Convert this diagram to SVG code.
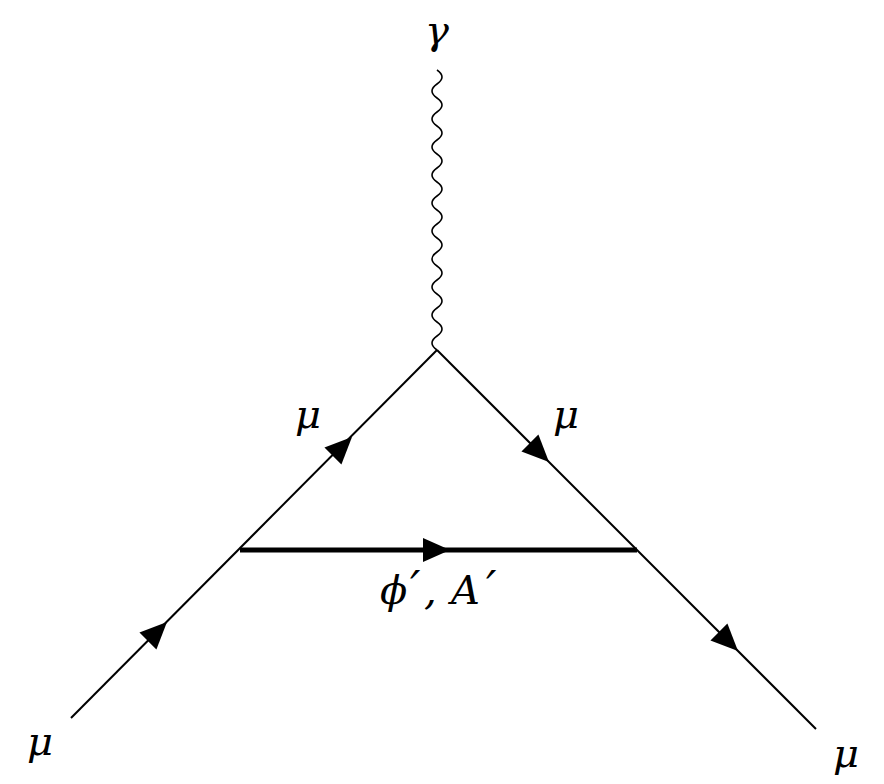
<svg xmlns="http://www.w3.org/2000/svg" xmlns:xlink="http://www.w3.org/1999/xlink" width="884" height="784" viewBox="0 0 884 784">
<style>
.fermion{stroke:#000;stroke-width:2;fill:none;stroke-linecap:butt}
.scalar{stroke:#000;stroke-width:5;fill:none}
.photon{stroke:#000;stroke-width:1.6;fill:none}
.lbl{font-family:'DejaVu Serif','Liberation Serif',serif;font-style:italic;font-size:40px;fill:#000}
.prime{font-size:46px}
</style>
<defs>
<path id="ah" d="M0,0 L-27,-12 L-27,12 Z" fill="#000"/>
</defs>
<rect width="884" height="784" fill="#fff"/>
<g id="connectors">
<line class="fermion" x1="71" y1="718" x2="437" y2="350"/>
<line class="fermion" x1="437" y1="350" x2="816" y2="729"/>
<line class="scalar" x1="240" y1="550" x2="637" y2="550"/>
<path class="photon" d="M437,350 q-10,-7 0,-14 t0,-14 t0,-14 t0,-14 t0,-14 t0,-14 t0,-14 t0,-14 t0,-14 t0,-14 t0,-14 t0,-14 t0,-14 t0,-14 t0,-14 t0,-14 t0,-14 t0,-14 t0,-14 t0,-14"/>
<use xlink:href="#ah" href="#ah" transform="translate(167,622) rotate(-45)"/>
<use xlink:href="#ah" href="#ah" transform="translate(352,437) rotate(-45)"/>
<use xlink:href="#ah" href="#ah" transform="translate(450,550)"/>
<use xlink:href="#ah" href="#ah" transform="translate(549,462) rotate(45)"/>
<use xlink:href="#ah" href="#ah" transform="translate(738,651) rotate(45)"/>
</g>
<g id="photon-label"><text class="lbl" x="437" y="44" text-anchor="middle">γ</text></g>
<g id="mu-in"><text class="lbl" x="27" y="755">μ</text></g>
<g id="mu-out"><text class="lbl" x="833" y="767">μ</text></g>
<g id="mu-left"><text class="lbl" x="295" y="428">μ</text></g>
<g id="mu-right"><text class="lbl" x="553" y="428">μ</text></g>
<g id="mediator-label"><text class="lbl" y="604"><tspan x="380">ϕ</tspan><tspan class="prime" x="410">′</tspan><tspan x="424">,</tspan><tspan x="451">A</tspan><tspan class="prime" x="486">′</tspan></text></g>
</svg>
